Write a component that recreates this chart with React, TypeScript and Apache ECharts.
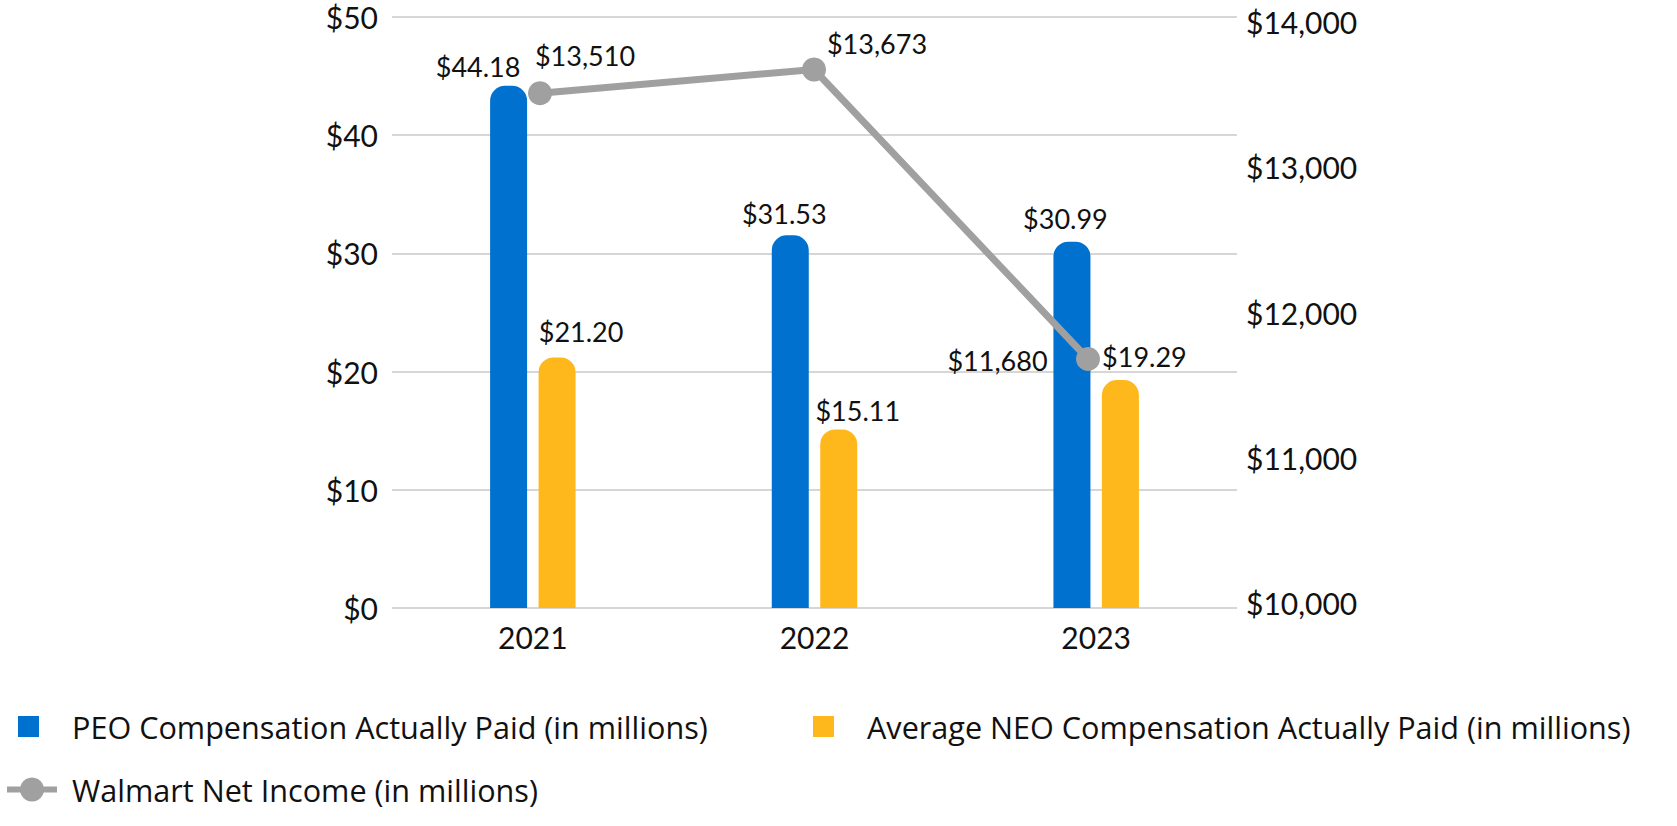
import React, { useEffect, useRef } from "react";
import * as echarts from "echarts";

const years = ["2021", "2022", "2023"];
const peoComp = [44.18, 31.53, 30.99];
const neoComp = [21.2, 15.11, 19.29];
const netIncome = [13510, 13673, 11680];

const peoName = "PEO Compensation Actually Paid (in millions)";
const neoName = "Average NEO Compensation Actually Paid (in millions)";
const niName = "Walmart Net Income (in millions)";

const FONT = "Lato";
const LEGEND_FONT = "Open Sans";

export default function App() {
  const ref = useRef<HTMLDivElement>(null);
  useEffect(() => {
    if (!ref.current) return;
    const chart = echarts.init(ref.current, undefined, { renderer: "svg" });
    const peoOffsets = [[-30.5, -1], [-6, -3], [-6.5, -5]];
    const neoOffsets = [[24, -7], [19, 0], [24, -4.5]];
    const niOffsets = [[45, -37.4], [63, -25.5], [-90.5, 1.5]];
    const money2 = (v: number) => "$" + v.toFixed(2);
    const moneyK = (v: number) => "$" + Number(v).toLocaleString("en-US");
    const labelBase = { show: true, color: "#111", fontFamily: FONT, fontSize: 27 };
    const legendText = { color: "#111", fontSize: 30.6, fontFamily: LEGEND_FONT, lineHeight: 30 };

    const option: any = {
      animation: false,
      textStyle: { fontFamily: FONT },
      grid: [
        { left: 392, right: 440, top: 17, bottom: 218 },
        { left: 403, right: 452, top: 22, bottom: 223 },
      ],
      xAxis: [
        {
          type: "category",
          gridIndex: 0,
          data: years,
          axisLine: { show: false },
          axisTick: { show: false },
          axisLabel: { color: "#111", fontSize: 30, fontFamily: FONT, margin: 14 },
        },
        { type: "category", gridIndex: 1, data: years, show: false },
      ],
      yAxis: [
        {
          type: "value",
          gridIndex: 0,
          min: 0,
          max: 50,
          interval: 10,
          axisLine: { show: false },
          axisTick: { show: false },
          splitLine: { lineStyle: { color: "#d6d6d6", width: 2 } },
          axisLabel: {
            color: "#111",
            fontSize: 30,
            fontFamily: FONT,
            margin: 14,
            formatter: (v: number) => "$" + v,
          },
        },
        {
          type: "value",
          gridIndex: 1,
          position: "right",
          min: 10000,
          max: 14000,
          interval: 1000,
          axisLine: { show: false },
          axisTick: { show: false },
          splitLine: { show: false },
          axisLabel: {
            color: "#111",
            fontSize: 30,
            fontFamily: FONT,
            margin: 21,
            formatter: moneyK,
          },
        },
      ],
      legend: [
        {
          data: [peoName],
          left: 18,
          top: 711,
          padding: 0,
          itemWidth: 21,
          itemHeight: 21,
          icon: "rect",
          textStyle: { ...legendText, padding: [0, 0, 0, 28] },
        },
        {
          data: [neoName],
          left: 813,
          top: 711,
          padding: 0,
          itemWidth: 21,
          itemHeight: 21,
          icon: "rect",
          textStyle: { ...legendText, padding: [0, 0, 0, 28] },
        },
        {
          data: [niName],
          left: 4,
          top: 774,
          padding: 0,
          itemWidth: 50,
          itemHeight: 30,
          lineStyle: { width: 6 },
          textStyle: { ...legendText, padding: [0, 0, 0, 10] },
        },
      ],
      series: [
        {
          name: peoName,
          type: "bar",
          xAxisIndex: 0,
          yAxisIndex: 0,
          barWidth: 37,
          barGap: "31%",
          itemStyle: { color: "#0071CE", borderRadius: [15, 15, 0, 0] },
          data: peoComp.map((v, i) => ({
            value: v,
            label: { ...labelBase, position: "top", offset: peoOffsets[i], formatter: () => money2(v) },
          })),
        },
        {
          name: neoName,
          type: "bar",
          xAxisIndex: 0,
          yAxisIndex: 0,
          barWidth: 37,
          barGap: "31%",
          itemStyle: { color: "#FFB81C", borderRadius: [15, 15, 0, 0] },
          data: neoComp.map((v, i) => ({
            value: v,
            label: { ...labelBase, position: "top", offset: neoOffsets[i], formatter: () => money2(v) },
          })),
        },
        {
          name: niName,
          type: "line",
          xAxisIndex: 1,
          yAxisIndex: 1,
          z: 5,
          symbol: "circle",
          symbolSize: 24,
          lineStyle: { color: "#A0A0A0", width: 7 },
          itemStyle: { color: "#A0A0A0" },
          data: netIncome.map((v, i) => ({
            value: v,
            label: { ...labelBase, position: "inside", align: "center", offset: niOffsets[i], formatter: () => moneyK(v) },
          })),
        },
      ],
    };
    chart.setOption(option);
    return () => chart.dispose();
  }, []);
  return (
    <div
      ref={ref}
      style={{ position: "fixed", left: 0, top: 0, width: 1677, height: 826, background: "#fff" }}
    />
  );
}
